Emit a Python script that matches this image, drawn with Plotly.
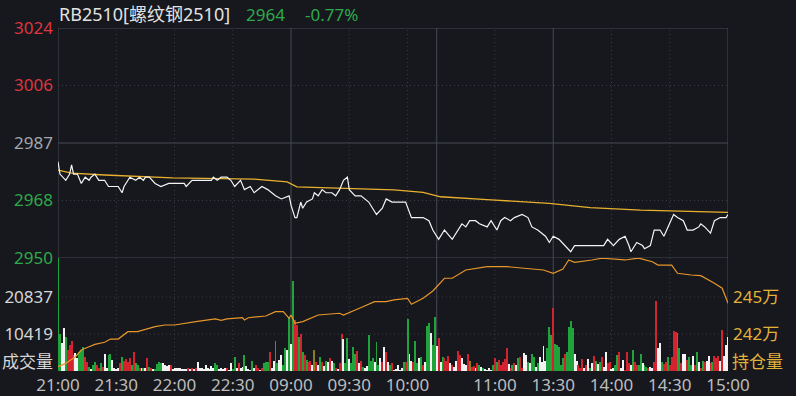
import plotly.graph_objects as go

# ---------------- data ----------------
prev_close = 2987
last_price = 2964
last_pct = "-0.77%"

# time axis: trading minutes from 21:00 (night 21:00-23:00, 09:00-10:15, 10:30-11:30, 13:30-15:00)
tick_minutes = [0, 30, 60, 90, 120, 150, 180, 225, 255, 285, 315, 345]
tick_labels = ["21:00", "21:30", "22:00", "22:30", "09:00", "09:30", "10:00",
               "11:00", "13:30", "14:00", "14:30", "15:00"]
session_breaks = [120, 195, 255]
dotted_minutes = [30, 60, 90, 150, 180, 225, 285, 315]

price_levels = [2950, 2968.5, 2987, 3005.5, 3024]
price_labels = ["2950", "2968", "2987", "3006", "3024"]
pct_labels = ["1.24%", "0.62%", "0.00%", "0.62%", "1.24%"]
level_side = ["dn", "dn", "flat", "up", "up"]

vol_levels = [10419, 20837]
oi_levels = [242, 245]
oi_labels = ["242万", "245万"]

price_pts = [(0, 2981), (1, 2977), (4, 2975), (6, 2977), (7, 2980), (8, 2977), (10, 2977), (12, 2974),
             (14, 2976), (16, 2975), (17, 2976), (19, 2977), (21, 2975), (24, 2975), (26, 2973), (29, 2973),
             (31, 2973), (33, 2971), (34, 2973), (37, 2976), (40, 2975), (42, 2976), (44, 2975), (45, 2976),
             (47, 2976), (50, 2974), (53, 2973), (57, 2974), (60, 2974), (65, 2974), (66, 2973), (69, 2975),
             (72, 2975), (79, 2975), (80, 2976), (82, 2975), (84, 2976), (87, 2976), (89, 2975), (91, 2973),
             (94, 2975), (96, 2972), (99, 2973), (101, 2971), (105, 2973), (108, 2972), (112, 2970), (115, 2969),
             (119, 2970), (120, 2967), (122, 2963), (123, 2963), (125, 2968), (126, 2966), (128, 2968), (131, 2969),
             (132, 2971), (134, 2970), (136, 2972), (138, 2971), (141, 2971), (143, 2970), (145, 2972), (147, 2975),
             (149, 2976), (150, 2972), (153, 2970), (156, 2970), (160, 2968), (164, 2964), (167, 2966), (169, 2969),
             (172, 2968), (176, 2968), (179, 2968), (182, 2963), (185, 2963), (188, 2963), (191, 2962), (193, 2959),
             (196, 2956), (199, 2959), (203, 2956), (205, 2958), (208, 2961), (210, 2960), (212, 2962), (215, 2962),
             (217, 2961), (221, 2960), (223, 2962), (226, 2959), (228, 2962), (230, 2963), (233, 2962), (235, 2963),
             (239, 2964), (242, 2963), (244, 2960), (247, 2959), (251, 2957), (253, 2955), (255, 2957), (258, 2956),
             (261, 2954), (264, 2952), (266, 2954), (270, 2954), (274, 2954), (278, 2954), (281, 2954), (283, 2956),
             (286, 2954), (289, 2956), (292, 2957), (294, 2954), (295, 2952), (298, 2955), (301, 2954), (302, 2953),
             (305, 2954), (307, 2959), (310, 2959), (312, 2957), (314, 2960), (317, 2964), (319, 2963), (322, 2962),
             (324, 2959), (327, 2959), (330, 2960), (331, 2961), (333, 2960), (336, 2958), (338, 2962), (341, 2963),
             (344, 2963), (345, 2964)]

avg_pts = [(0, 2978.3), (7, 2977.3), (24, 2976.7), (59, 2975.8), (101, 2975.4), (118, 2974.5), (123, 2972.9),
           (144, 2972.4), (173, 2971.9), (188, 2971.1), (197, 2969.7), (223, 2968.7), (253, 2967.6),
           (274, 2966.2), (300, 2965.4), (345, 2964.7)]

oi_pts = [(0, 239.35), (4, 239.62), (9, 240.16), (12, 240.70), (16, 240.97), (19, 241.16), (24, 241.33),
          (27, 241.59), (31, 241.59), (36, 242.19), (41, 242.19), (50, 242.59), (55, 242.73), (60, 242.73),
          (71, 243.00), (81, 243.22), (84, 243.11), (87, 243.22), (95, 243.32), (96, 243.14), (98, 243.32),
          (107, 243.46), (112, 243.81), (116, 243.81), (119, 243.27), (120, 243.54), (122, 242.87), (126, 243.00),
          (134, 243.54), (145, 243.68), (147, 243.54), (150, 243.76), (157, 244.21), (163, 244.62), (169, 244.62),
          (173, 244.76), (180, 244.89), (182, 244.41), (188, 244.89), (193, 245.49), (199, 246.52), (203, 246.52),
          (210, 247.19), (221, 247.46), (231, 247.46), (240, 247.33), (250, 247.19), (255, 246.92), (260, 247.27),
          (263, 248.00), (266, 247.81), (275, 248.00), (280, 248.14), (292, 248.00), (299, 248.15), (306, 247.86),
          (309, 247.59), (316, 247.59), (319, 246.92), (326, 246.78), (331, 246.73), (338, 246.11), (342, 245.71),
          (345, 244.49)]

# per-minute volume (direction: r up, g down, w flat, y mixed)
vol_a = [33000, 10400, 7800, 12200, 9700, 5900, 7300, 8400, 4500, 5000,
         3600, 5300, 5900, 6900, 4000, 2600, 1200, 600, 1700, 2600,
         1700, 900, 2200, 1200, 4800, 800, 4500, 4800, 3100, 750,
         560, 750, 2200, 4000, 2800, 3400, 2400, 3600, 1700, 5400,
         2200, 1700, 940, 940, 750, 750, 3800, 1200, 750, 470,
         560, 1900, 2400, 2200, 2200, 1700, 1400, 1700, 1700, 470,
         750, 750, 750, 940, 470, 560, 560, 750, 560,
         750, 660, 750, 2600, 750, 940, 560, 1700, 750, 560,
         1500, 750, 2200, 1700, 560, 750, 560, 750]
dir_a = ("ggwwgrrrgw" "wgggrrgwgg" "rrgrwwggww" "wwrgrrrrgr" "ggrwgwrgrw"
         "ggggwwwwrw" "wwwwwwwrw" "rwrwwwwwww" "wwggwwww")
vol_b = [750, 280, 2200, 560, 4000, 750, 2200, 750, 1200, 4500,
         1500, 470, 280, 2800, 750, 1700, 750, 280, 750, 2200,
         2600, 2400, 5300, 750, 2800, 8400, 2200, 3100, 4500, 1700,
         6600, 5900, 14800, 7500, 25400, 14400, 13000, 9700, 10300, 5400,
         4500, 3100, 2400, 2800, 1700, 5900, 2400, 1700, 4000, 2400,
         1500, 2800, 2400, 3600, 2800, 2200, 940, 560, 2200, 10300,
         9000, 2200, 9400, 3400, 2200, 6900, 4900, 5500, 2200, 2800,
         1200, 750, 1500, 10000, 2800, 3600, 2600, 8100, 1700, 3600,
         2400, 6900, 5300, 2600, 1700, 2200]
dir_b = ("rwwggwrwwg" "wwwgwrrwrg" "ggrwwggwwg" "gwgwgrrgrg" "rgrrwyrwgr"
         "wgwrwgrwrr" "wggwgggrwr" "gwwgggwggw" "rwrwgr")
vol_c = [280, 560, 1700, 280, 750, 2600, 2400, 14600, 4700, 2800,
         2600, 8400, 2200, 3600, 4000, 1700, 2400, 12800, 13400, 10600,
         7300, 15300, 7100, 9200, 2400, 4000, 3600, 2800, 4300, 2200,
         1700, 1200, 2800, 5600, 4500, 3600, 1900, 1700, 4700, 2800,
         1200, 1500, 750, 2200, 1700, 1200, 750, 560, 280, 750, 280,
         1700, 3800, 2600, 3100, 1700, 2400, 3400, 6400, 1900, 940,
         1700, 2200, 1700, 3600, 4000, 750, 5000, 4500, 2600, 2200,
         4700, 4000, 1200, 2200, 4000, 2400, 7100, 2800, 6400, 12500,
         10100, 17800, 7500, 7300, 6900]
dir_c = ("wwwwwgrgww" "rggwgrwggw" "ggwrwgrrrw" "rwwrrwwwry" "rrwrgwgwwww"
         "grgrrrrrwr" "grwgrrwwgw" "ggwgwwwwgg" "grggg")
vol_d = [1700, 3600, 4700, 5400, 12500, 14100, 12000, 4700, 2800, 1700,
         940, 3400, 940, 1700, 3400, 750, 2200, 4300, 2800, 1900,
         2600, 4000, 1200, 5300, 2200, 2400, 560, 750, 1700, 4500, 5300,
         940, 3100, 280, 5400, 2200, 1700, 5900, 2600, 1700, 1700,
         4900, 2200, 1700, 1200, 750, 1200, 750, 2400, 19700, 6400,
         7800, 2600, 1900, 2600, 4000, 1700, 4000, 11300, 10900, 10600,
         6400, 2200, 4900, 4700, 3100, 4000, 1700, 4300, 1700, 5400,
         2600, 750, 2800, 2400, 2800, 4300, 2200, 2400, 4300, 3600,
         4300, 2800, 11500, 4300, 7300, 9700]
dir_d = ("ggrggggwwr" "rrwrwgwrgw" "grwwrrwwggr" "wwrrrwgrrg" "gwggrwwrrw"
         "wgrrgrrrrg" "grwwrggwrg" "wrgrwwrgrr" "rwrwww")

# ---------------- style ----------------
BG = "#16181d"
GRID = "#3a3d44"
BORDER = "#474a52"
RED = "#df3540"
GREEN = "#2eaa4b"
GREY = "#a4a7ac"
WHITE = "#d6d6d6"
GOLD = "#e2b23a"
FONT = "Noto Sans, Noto Sans CJK SC, sans-serif"
FS = 17

bar_colors = {"r": "#d3232e", "g": "#21a33c", "w": "#f2f2f2", "y": "#8e7b1e"}
side_color = {"up": RED, "dn": GREEN, "flat": GREY}

vol = vol_a + vol_b + vol_c + vol_d
dirs = dir_a + dir_b + dir_c + dir_d
bar_x = list(range(len(vol)))
colors = [bar_colors[d] for d in dirs]

PANEL = (371 - 258) / 343  # fraction of plot height for volume panel

fig = go.Figure()
fig.add_trace(go.Bar(x=bar_x, y=vol, width=0.5, marker=dict(color=colors, line=dict(width=0)),
                     xaxis="x2", yaxis="y3", hoverinfo="skip"))
fig.add_trace(go.Scatter(x=[p[0] for p in oi_pts], y=[p[1] for p in oi_pts], mode="lines",
                         line=dict(color="#e6962a", width=1.2), xaxis="x2", yaxis="y4"))
fig.add_trace(go.Scatter(x=[p[0] for p in avg_pts], y=[p[1] for p in avg_pts], mode="lines",
                         line=dict(color="#e8b02f", width=1.3), xaxis="x", yaxis="y"))
fig.add_trace(go.Scatter(x=[p[0] for p in price_pts], y=[p[1] for p in price_pts], mode="lines",
                         line=dict(color="#f4f4f4", width=1.2), xaxis="x", yaxis="y"))

shapes = []
def hline(v, yref, dash):
    shapes.append(dict(type="line", xref="paper", x0=0, x1=1, yref=yref, y0=v, y1=v,
                       line=dict(color=GRID if dash != "solid" else BORDER, width=1, dash=dash), layer="below"))

for v, s in zip(price_levels, level_side):
    hline(v, "y", "solid" if v in (price_levels[0], prev_close, price_levels[-1]) else "1px,3px")
for v in vol_levels:
    hline(v, "y3", "1px,3px")
for m in dotted_minutes:
    shapes.append(dict(type="line", xref="x", x0=m, x1=m, yref="paper", y0=0, y1=1,
                       line=dict(color=GRID, width=1, dash="1px,3px"), layer="below"))
for m in session_breaks + [tick_minutes[0], tick_minutes[-1]]:
    shapes.append(dict(type="line", xref="x", x0=m, x1=m, yref="paper", y0=0, y1=1,
                       line=dict(color=BORDER, width=1), layer="below"))

left_ticks = [f'<span style="color:{side_color[s]}">{t}</span>' for t, s in zip(price_labels, level_side)]
right_ticks = [f'<span style="color:{side_color[s]}">{t}</span>' for t, s in zip(pct_labels, level_side)]

axis_common = dict(showgrid=False, zeroline=False, ticks="", showline=False, fixedrange=True,
                   automargin=False)

fig.update_layout(
    template="none",
    width=796, height=396,
    margin=dict(l=58, r=68, t=28, b=25, pad=0),
    paper_bgcolor=BG, plot_bgcolor=BG,
    showlegend=False, bargap=0,
    font=dict(family=FONT, size=FS, color=WHITE),
    shapes=shapes,
    xaxis=dict(domain=[0, 1], anchor="y", range=[0, 345], showticklabels=False, **axis_common),
    xaxis2=dict(domain=[0, 1], anchor="y3", range=[0, 345], tickvals=tick_minutes, ticktext=tick_labels,
                tickfont=dict(size=FS, color="#bdbdbd"), ticklabelstandoff=2, **axis_common),
    yaxis=dict(domain=[PANEL, 1], anchor="x", range=[price_levels[0], price_levels[-1]],
               tickvals=price_levels, ticktext=left_ticks, ticklabelstandoff=4, **axis_common),
    yaxis2=dict(overlaying="y", side="right", anchor="x", range=[price_levels[0], price_levels[-1]],
                tickvals=price_levels, ticktext=right_ticks, ticklabelstandoff=4, **axis_common),
    yaxis3=dict(domain=[0, PANEL], anchor="x2", range=[0, 31820], tickvals=vol_levels,
                ticktext=[str(v) for v in vol_levels], tickfont=dict(color=WHITE),
                ticklabelstandoff=4, **axis_common),
    yaxis4=dict(overlaying="y3", side="right", anchor="x2", range=[239, 248.16], tickvals=oi_levels,
                ticktext=oi_labels, tickfont=dict(color=GOLD), ticklabelstandoff=4, **axis_common),
)

ann = [
    dict(text="RB2510[螺纹钢2510]", x=0, xanchor="left", font=dict(color="#e2e2e2", size=18)),
    dict(text=str(last_price), x=(245 - 58) / 670, xanchor="left", font=dict(color=GREEN, size=FS)),
    dict(text=last_pct, x=(304 - 58) / 670, xanchor="left", font=dict(color=GREEN, size=FS)),
]
for a in ann:
    a.update(xref="paper", yref="paper", y=1, yanchor="bottom", yshift=1, showarrow=False, borderpad=0)
    a["font"].update(family=FONT)
    fig.add_annotation(**a)

fig.add_annotation(text="成交量", xref="paper", yref="paper", x=0, xanchor="right", xshift=-3,
                   y=(371 - 361) / 343, yanchor="middle", showarrow=False,
                   font=dict(family=FONT, size=FS, color=WHITE))
fig.add_annotation(text="持仓量", xref="paper", yref="paper", x=1, xanchor="left", xshift=2,
                   y=(371 - 361) / 343, yanchor="middle", showarrow=False,
                   font=dict(family=FONT, size=FS, color=GOLD))

fig.write_html("out.html", config={"displayModeBar": False},
               post_script="document.body.style.margin='0';")
